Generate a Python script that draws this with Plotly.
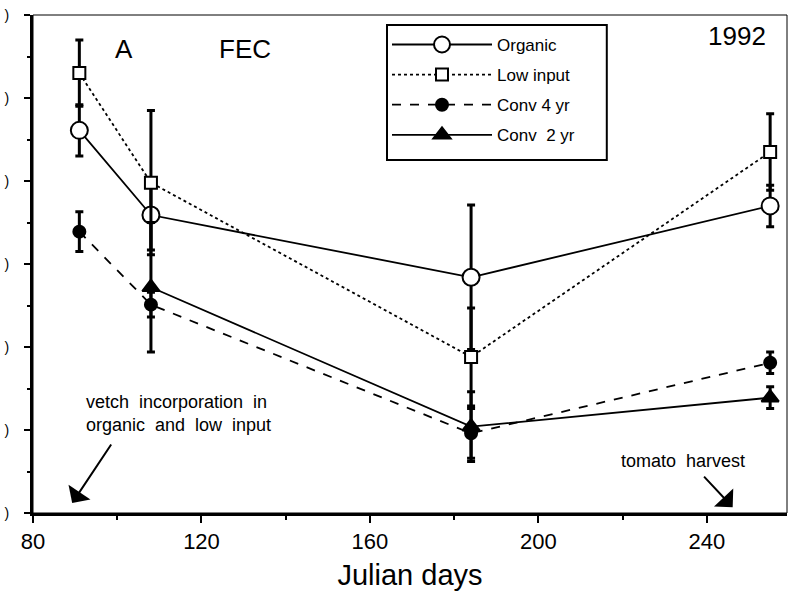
import plotly.graph_objects as go

days = [91, 108, 184, 255]
days_c2 = [108, 184, 255]

organic = [4.61, 3.59, 2.84, 3.70]
organic_err = [0.31, 0.42, 0.87, 0.25]

low_input = [5.30, 3.98, 1.88, 4.35]
low_input_err = [0.40, 0.87, 0.59, 0.46]

conv4 = [3.39, 2.51, 0.96, 1.81]
conv4_err = [0.24, 0.15, 0.30, 0.13]

conv2 = [2.72, 1.04, 1.39]
conv2_err = [0.78, 0.42, 0.13]

x_ticks = [80, 120, 160, 200, 240]
y_ticks = [0, 1, 2, 3, 4, 5, 6]
y_ticktext = [")"] * 7

FONT = "Liberation Sans, Arial, sans-serif"

fig = go.Figure()

def add(name, x, y, err, dash, symbol, size, fill, group):
    fig.add_trace(go.Scatter(
        x=x, y=y, name=name, mode="lines+markers", legendgroup=group,
        line=dict(color="black", width=1.8, dash=dash),
        marker=dict(symbol=symbol, size=size, color=fill,
                    line=dict(color="black", width=2)),
        error_y=dict(type="data", array=err, visible=True,
                     color="black", thickness=3, width=4),
    ))

add("Organic", days, organic, organic_err, "solid", "circle", 17, "white", "a")
add("Low input", days, low_input, low_input_err, "dot", "square", 12, "white", "b")
add("Conv 4 yr", days, conv4, conv4_err, "dash", "circle", 12, "black", "c")
add("Conv  2 yr", days_c2, conv2, conv2_err, "solid", "triangle-up", 15, "black", "d")

fig.update_layout(
    width=791, height=597,
    margin=dict(l=33, r=4, t=15, b=84),
    paper_bgcolor="white", plot_bgcolor="white",
    font=dict(family=FONT, color="black"),
    showlegend=True,
    legend=dict(
        x=0.4695, y=0.976, xanchor="left", yanchor="top",
        bgcolor="rgba(0,0,0,0)", borderwidth=0,
        font=dict(size=17, family=FONT, color="black"),
        itemwidth=100, tracegroupgap=5,
    ),
    xaxis=dict(
        range=[80, 259], tickvals=x_ticks,
        ticks="outside", ticklen=7, tickwidth=2, tickcolor="black",
        minor=dict(dtick=20, tick0=80, ticks="outside", ticklen=4, tickwidth=2, tickcolor="black"),
        showline=True, linewidth=2.5, linecolor="black",
        showgrid=False, zeroline=False,
        tickfont=dict(size=22, family=FONT, color="black"),
        title=dict(text="Julian days", font=dict(size=29, family=FONT, color="black"), standoff=12),
    ),
    yaxis=dict(
        range=[0, 6], tickvals=y_ticks, ticktext=y_ticktext,
        ticks="outside", ticklen=6, tickwidth=2, tickcolor="black",
        minor=dict(dtick=0.5, tick0=0, ticks="outside", ticklen=3, tickwidth=2, tickcolor="black"),
        showline=True, linewidth=3, linecolor="black",
        showgrid=False, zeroline=False,
        tickfont=dict(size=14, family=FONT, color="black"),
        ticklabelstandoff=12,
    ),
)

# thin frame on top and right
fig.add_shape(type="rect", xref="paper", yref="paper", x0=0, y0=0, x1=1, y1=1,
              line=dict(color="black", width=1))
# legend box
fig.add_shape(type="rect", xref="paper", yref="paper", x0=0.4695, y0=0.709, x1=0.761, y1=0.98,
              line=dict(color="black", width=2), fillcolor="rgba(0,0,0,0)", layer="above")

texts = [
    dict(x=0.121, y=0.932, text="A", size=26),
    dict(x=0.281, y=0.932, text="FEC", size=26),
    dict(x=0.934, y=0.958, text="1992", size=26),
]
for t in texts:
    fig.add_annotation(x=t["x"], y=t["y"], xref="paper", yref="paper",
                       xanchor="center", yanchor="middle",
                       text=t["text"], showarrow=False,
                       font=dict(size=t["size"], family=FONT, color="black"))

fig.add_annotation(x=0.193, y=0.2, xref="paper", yref="paper",
                   xanchor="center", yanchor="middle",
                   text="vetch  incorporation  in<br>organic  and  low  input",
                   showarrow=False, align="left",
                   font=dict(size=18, family=FONT, color="black"))
fig.add_annotation(x=0.862, y=0.104, xref="paper", yref="paper",
                   xanchor="center", yanchor="middle",
                   text="tomato  harvest", showarrow=False,
                   font=dict(size=18, family=FONT, color="black"))

# arrows
fig.add_annotation(x=89.3, y=0.12, xref="x", yref="y", text="", showarrow=True,
                   ax=40, ay=-60, arrowhead=1, arrowsize=2.2, arrowwidth=2, arrowcolor="black")
fig.add_annotation(x=246.1, y=0.07, xref="x", yref="y", text="", showarrow=True,
                   ax=-30, ay=-32, arrowhead=1, arrowsize=2.2, arrowwidth=2, arrowcolor="black")

fig.write_html("out.html")
